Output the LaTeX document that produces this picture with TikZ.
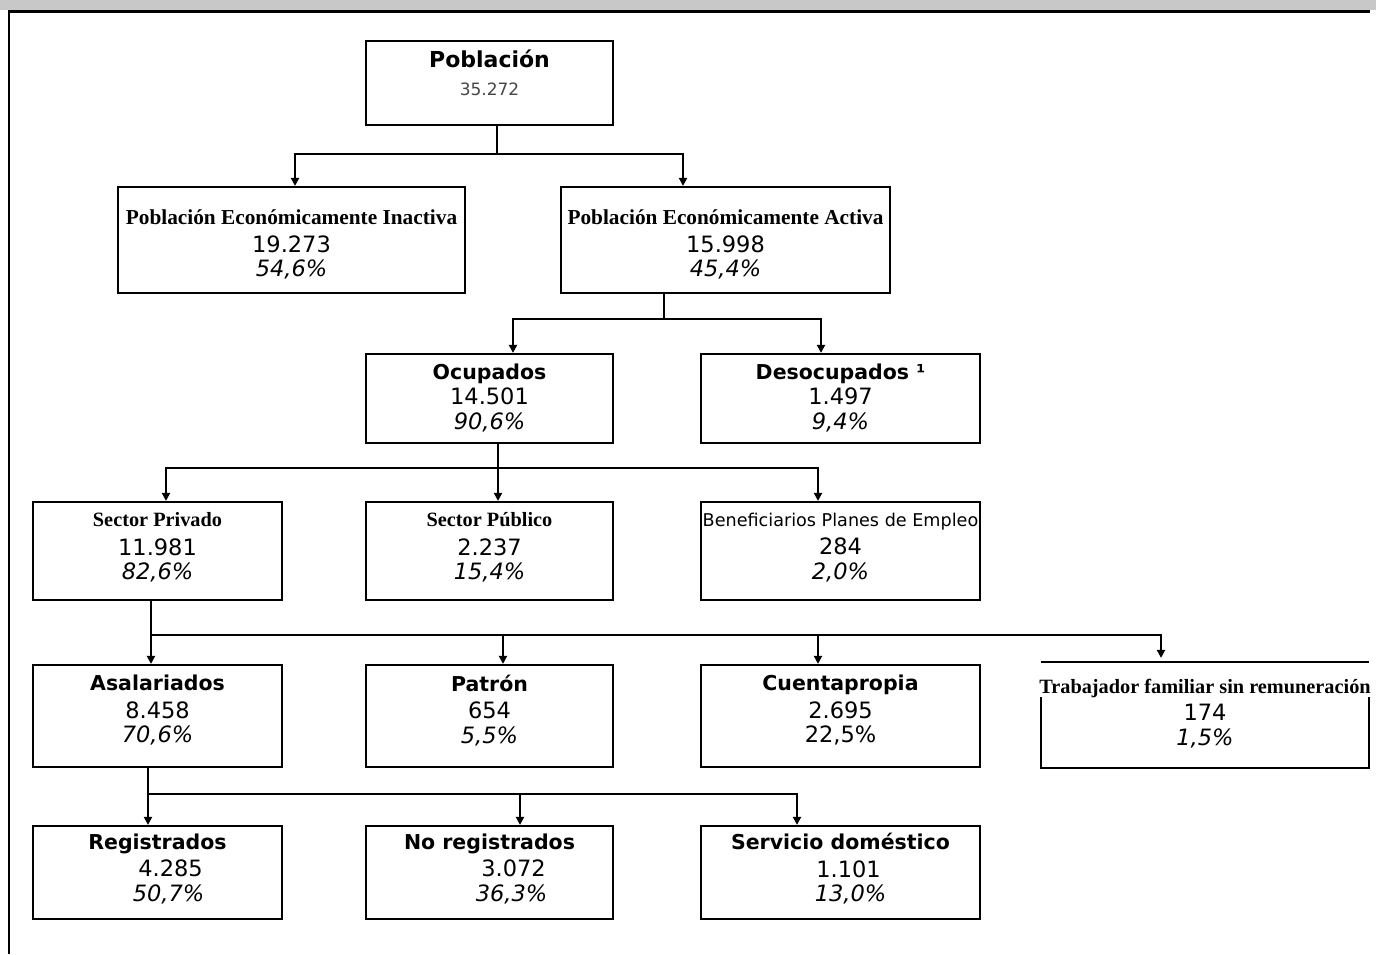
\documentclass[tikz,border=0pt]{standalone}
\usepackage{fontspec}
\setmainfont{DejaVu Sans}
\newfontfamily\timesfont{Liberation Serif}
\usepackage{xcolor}
\usepackage{tikz}
\usetikzlibrary{positioning, arrows.meta}

\definecolor{bandgray}{RGB}{200,200,200}
\definecolor{numgray}{RGB}{70,70,70}

\newcommand{\vtitle}[1]{{\fontsize{20.5}{24}\selectfont\bfseries #1}}
\newcommand{\ttitle}[2][20.3]{{\timesfont\fontsize{#1}{24}\selectfont\bfseries #2}}
\newcommand{\pct}[1]{\textit{#1}}
% invisible struts to move a text block up (\up) or down (\down)
\newcommand{\up}[1]{\rule[-#1]{0pt}{0pt}}
\newcommand{\down}[1]{\rule{0pt}{#1}}

\begin{document}
\begin{tikzpicture}[
    x=1pt, y=-1pt,
    box/.style={draw, line width=2.2pt, align=center, inner sep=0pt, font=\fontsize{22.5}{24.5}\selectfont},
    link/.style={draw, line width=2.6pt},
    arrow/.style={link, -{Triangle[width=8pt,length=8pt]}}
]
\useasboundingbox (0,0) rectangle (1376,954);
\fill[bandgray] (0,0) rectangle (1376,10);
\draw[line width=3pt] (8,11.5) -- (1370,11.5);
\draw[line width=2.5pt] (9,10) -- (9,954);

\node[box, minimum width=247pt, minimum height=84pt] (pob) at (489.5,83)
    {{\fontsize{22}{26}\selectfont\bfseries Población}\\[4pt]{\fontsize{17}{20}\selectfont\color{numgray}35.272}\\[-4pt]\rule{0pt}{16pt}};

\node[box, minimum width=347pt, minimum height=106pt] (pei) at (291.5,240)
    {\ttitle[21.3]{\down{24pt}Población Económicamente Inactiva}\\[3pt]19.273\\\pct{54,6\%}};
\node[box, minimum width=329pt, minimum height=106pt] (pea) at (725.5,240)
    {\ttitle[21.3]{\down{24pt}Población Económicamente Activa}\\[3pt]15.998\\\pct{45,4\%}};

\node[box, minimum width=247pt, minimum height=89pt] (ocu) at (489.5,398.5)
    {\vtitle{Ocupados}\\[1pt]14.501\\\pct{90,6\%}\up{4pt}};
\node[box, minimum width=279pt, minimum height=89pt] (deso) at (840.5,398.5)
    {\vtitle{Desocupados ¹}\\[1pt]1.497\\\pct{9,4\%}\up{4pt}};

\node[box, minimum width=249pt, minimum height=98pt] (priv) at (157.5,551)
    {\ttitle{Sector Privado}\\[4pt]11.981\\\pct{82,6\%}\up{10pt}};
\node[box, minimum width=247pt, minimum height=98pt] (pub) at (489.5,551)
    {\ttitle{Sector Público}\\[4pt]2.237\\\pct{15,4\%}\up{10pt}};
\node[box, minimum width=279pt, minimum height=98pt] (benef) at (840.5,551)
    {{\fontsize{17.6}{20}\selectfont Beneficiarios Planes de Empleo}\\[4pt]284\\\pct{2,0\%}\up{10pt}};

\node[box, minimum width=249pt, minimum height=102pt] (asal) at (157.5,716)
    {\vtitle{Asalariados}\\[3pt]8.458\\\pct{70,6\%}\up{14pt}};
\node[box, minimum width=247pt, minimum height=102pt] (patron) at (489.5,716)
    {\vtitle{Patrón}\\[3pt]654\\\pct{5,5\%}\up{14pt}};
\node[box, minimum width=279pt, minimum height=102pt] (cuenta) at (840.5,716)
    {\vtitle{Cuentapropia}\\[3pt]2.695\\22,5\%\up{14pt}};
\node[box, draw=none, minimum width=326pt, minimum height=104pt] (trab) at (1205,715)
    {\makebox[0pt]{\ttitle{Trabajador familiar sin remuneración}}\\[3pt]174\\\pct{1,5\%}\up{6pt}};
\draw[line width=2.2pt] (trab.north west) -- (trab.north east);
\draw[line width=2.2pt] ([yshift=-35pt]trab.north west) |- (trab.south east) -- ([yshift=-35pt]trab.north east);

\node[box, minimum width=249pt, minimum height=93pt] (reg) at (157.5,872.5)
    {\vtitle{Registrados}\\[3pt]\hspace*{26pt}4.285\\\hspace*{22pt}\pct{50,7\%}\up{10pt}};
\node[box, minimum width=247pt, minimum height=93pt] (noreg) at (489.5,872.5)
    {\vtitle{No registrados}\\[3pt]\hspace*{48pt}3.072\\\hspace*{44pt}\pct{36,3\%}\up{10pt}};
\node[box, minimum width=279pt, minimum height=93pt] (serv) at (840.5,872.5)
    {\vtitle{Servicio doméstico}\\[3pt]\hspace*{16pt}1.101\\\hspace*{20pt}\pct{13,0\%}\up{10pt}};

\draw[link] ([xshift=7.5pt]pob.south) -- ++(0,28) coordinate (b1);
\draw[arrow] (b1) -| ([xshift=3.5pt]pei.north);
\draw[arrow] (b1) -| ([xshift=-42.5pt]pea.north);

\draw[link] ([xshift=-61.5pt]pea.south) -- ++(0,25) coordinate (b2);
\draw[arrow] (b2) -| ([xshift=23.5pt]ocu.north);
\draw[arrow] (b2) -| ([xshift=-19.5pt]deso.north);

\draw[link] ([xshift=8.5pt]ocu.south) -- ++(0,24) coordinate (b3);
\draw[arrow] (b3) -| ([xshift=8.5pt]priv.north);
\draw[arrow] (b3) -- ([xshift=8.5pt]pub.north);
\draw[arrow] (b3) -| ([xshift=-22.5pt]benef.north);

\draw[link] ([xshift=-6.5pt]priv.south) -- ++(0,34) coordinate (b4);
\draw[arrow] (b4) -- ([xshift=-6.5pt]asal.north);
\draw[arrow] (b4) -| ([xshift=13.5pt]patron.north);
\draw[arrow] (b4) -| ([xshift=-22.5pt]cuenta.north);
\draw[arrow, shorten >=4pt] (b4) -| ([xshift=-44pt]trab.north);

\draw[link] ([xshift=-9.5pt]asal.south) -- ++(0,26) coordinate (b5);
\draw[arrow] (b5) -- ([xshift=-9.5pt]reg.north);
\draw[arrow] (b5) -| ([xshift=30.5pt]noreg.north);
\draw[arrow] (b5) -| ([xshift=-43.5pt]serv.north);
\end{tikzpicture}
\end{document}
